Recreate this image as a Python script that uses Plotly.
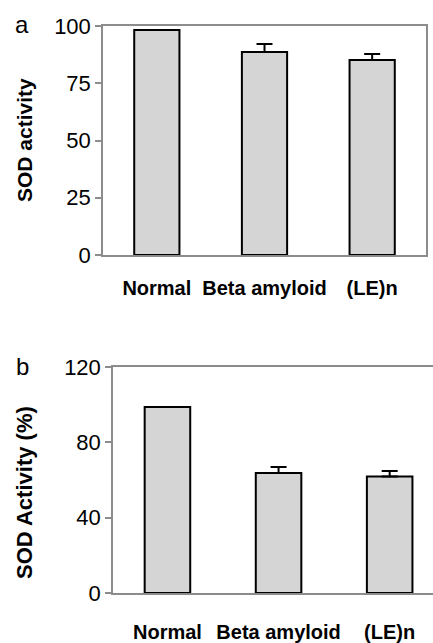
import plotly.graph_objects as go

categories = ["Normal", "Beta amyloid", "(LE)n"]
sod_a = [98.3, 88.6, 85.2]
err_a = [0, 3.5, 2.6]
sod_b = [98.8, 63.7, 61.8]
err_b = [0, 3.2, 3.0]
ticks_a = [0, 25, 50, 75, 100]
ticks_b = [0, 40, 80, 120]

W, H = 433, 643
FONT = "Liberation Sans, Arial, sans-serif"
GRAY = "#8c8c8c"

pattern = dict(shape=".", fgcolor="#666666", bgcolor="#f4f4f4", size=2, solidity=0.5)

fig = go.Figure()
fig.add_trace(go.Bar(
    x=categories, y=sod_a, xaxis="x", yaxis="y", width=0.42,
    marker=dict(color="#ffffff", pattern=pattern, line=dict(color="black", width=2)),
    error_y=dict(type="data", symmetric=False, array=err_a, arrayminus=[0, 0, 0],
                 color="black", thickness=2, width=8),
    showlegend=False,
))
fig.add_trace(go.Bar(
    x=categories, y=sod_b, xaxis="x2", yaxis="y2", width=0.41,
    marker=dict(color="#ffffff", pattern=pattern, line=dict(color="black", width=2)),
    error_y=dict(type="data", symmetric=False, array=err_b, arrayminus=[0, 0, 0],
                 color="black", thickness=2, width=8),
    showlegend=False,
))

tickfont_cat = dict(family=FONT, size=20, color="black", weight="bold")

fig.update_layout(
    width=W, height=H,
    margin=dict(l=0, r=0, t=0, b=0, autoexpand=False),
    paper_bgcolor="white", plot_bgcolor="white",
    font=dict(family=FONT, color="black"),
    xaxis=dict(domain=[103 / W, 426 / W], anchor="y", range=[-0.5, 2.5], automargin=False,
               showline=True, linecolor=GRAY, linewidth=1.5, mirror=True,
               ticks="", tickfont=tickfont_cat, ticklabelstandoff=14, showgrid=False),
    yaxis=dict(domain=[1 - 255 / H, 1 - 26 / H], anchor="x", range=[0, 100], automargin=False,
               tickvals=ticks_a, showline=True, linecolor=GRAY, linewidth=1.5, mirror=True,
               ticks="outside", ticklen=6, tickcolor=GRAY, tickwidth=1.5,
               tickfont=dict(family=FONT, size=22, color="black"), showgrid=False,
               zeroline=False),
    xaxis2=dict(domain=[113 / W, 1.0], anchor="y2", range=[-0.49, 2.39], automargin=False,
                showline=True, linecolor=GRAY, linewidth=1.5, mirror=True,
                ticks="", tickfont=tickfont_cat, ticklabelstandoff=20, showgrid=False),
    yaxis2=dict(domain=[1 - 593 / H, 1 - 367 / H], anchor="x2", range=[0, 120], automargin=False,
                tickvals=ticks_b, showline=True, linecolor=GRAY, linewidth=1.5,
                ticks="outside", ticklen=6, tickcolor=GRAY, tickwidth=1.5,
                tickfont=dict(family=FONT, size=22, color="black"), showgrid=False,
                zeroline=False),
    annotations=[
        dict(text="a", x=22 / W, y=1 - 24 / H, xref="paper", yref="paper",
             xanchor="center", yanchor="middle",
             showarrow=False, font=dict(family=FONT, size=24, color="black")),
        dict(text="b", x=22 / W, y=1 - 366 / H, xref="paper", yref="paper",
             xanchor="center", yanchor="middle",
             showarrow=False, font=dict(family=FONT, size=24, color="black")),
        dict(text="<b>SOD activity</b>", x=25 / W, y=1 - 140 / H, xref="paper", yref="paper",
             xanchor="center", yanchor="middle",
             textangle=-90, showarrow=False, font=dict(family=FONT, size=21, color="black")),
        dict(text="<b>SOD Activity (%)</b>", x=24 / W, y=1 - 173 / H - 320 / H, xref="paper",
             yref="paper", xanchor="center", yanchor="middle",
             textangle=-90, showarrow=False, font=dict(family=FONT, size=22, color="black")),
    ],
)

fig.write_html("out.html")
